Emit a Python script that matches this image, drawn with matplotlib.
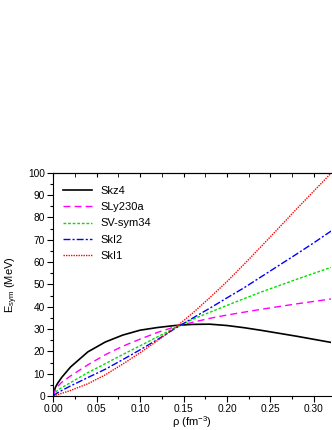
import numpy as np
import matplotlib
matplotlib.use('Agg')
import matplotlib.pyplot as plt
from matplotlib.ticker import MultipleLocator

plt.rcParams['font.family'] = ['Liberation Sans', 'DejaVu Sans']
plt.rcParams['mathtext.fontset'] = 'custom'
plt.rcParams['mathtext.rm'] = 'Liberation Sans'
plt.rcParams['mathtext.it'] = 'Liberation Sans:italic'

# densities (fm^-3)
rho = [0.0, 0.0025, 0.005, 0.01, 0.02, 0.04, 0.06, 0.08, 0.10, 0.12, 0.14, 0.16,
       0.18, 0.20, 0.22, 0.24, 0.26, 0.28, 0.30, 0.32]

# symmetry energy (MeV) for each force
skz4 = [0.0, 3.8, 5.6, 8.4, 13.0, 19.8, 24.2, 27.3, 29.5, 30.7, 31.6, 32.1,
        32.2, 31.6, 30.6, 29.4, 28.1, 26.8, 25.4, 24.0]
sly230a = [0.0, 2.8, 4.2, 6.2, 9.0, 14.0, 18.5, 22.3, 25.5, 28.5, 31.0, 33.0,
           34.8, 36.3, 37.6, 38.9, 40.1, 41.3, 42.4, 43.5]
svsym34 = [0.0, 1.5, 2.5, 3.8, 6.0, 10.5, 14.5, 18.6, 22.5, 26.5, 30.6, 34.3,
           37.5, 40.6, 43.7, 46.7, 49.5, 52.3, 55.0, 57.7]
ski2 = [0.0, 0.8, 1.4, 2.5, 4.5, 8.3, 12.0, 16.3, 20.7, 25.3, 30.2, 34.8,
        39.3, 44.0, 48.6, 53.6, 58.6, 63.6, 68.7, 74.0]
ski1 = [0.0, 0.3, 0.6, 1.2, 2.5, 5.5, 9.5, 14.3, 19.4, 24.8, 30.5, 37.0,
        44.0, 51.3, 59.2, 67.3, 75.5, 83.8, 91.9, 100.0]

fig = plt.figure(figsize=(3.32, 4.30), dpi=100)
ax = fig.add_axes([0.16, 0.079, 0.838, 0.519])

ax.plot(rho, skz4, color='black', lw=1.2, label='Skz4')
ax.plot(rho, sly230a, color='#ff00ff', lw=1.0, dashes=(5, 3), label='SLy230a')
ax.plot(rho, svsym34, color='#00e000', lw=1.0, dashes=(2, 1.3), label='SV-sym34')
ax.plot(rho, ski2, color='#0000ff', lw=1.0, dashes=(5, 1.5, 1.5, 1.5), label='SkI2')
ax.plot(rho, ski1, color='#ff0000', lw=1.0, dashes=(1, 0.8), label='SkI1')

ax.set_xlim(0, 0.32)
ax.set_ylim(0, 100)
ax.xaxis.set_major_locator(MultipleLocator(0.05))
ax.xaxis.set_minor_locator(MultipleLocator(0.025))
ax.yaxis.set_major_locator(MultipleLocator(10))
ax.yaxis.set_minor_locator(MultipleLocator(5))
ax.xaxis.set_major_formatter(matplotlib.ticker.FormatStrFormatter('%.2f'))
ax.tick_params(which='major', direction='out', length=4, width=0.8, labelsize=7.3, pad=2)
ax.tick_params(which='minor', direction='out', length=2, width=0.8)
ax.spines['right'].set_visible(False)

top = ax.secondary_xaxis('top')
top.xaxis.set_major_locator(MultipleLocator(0.05))
top.xaxis.set_minor_locator(MultipleLocator(0.025))
top.tick_params(which='both', direction='in', length=3, labeltop=False)

ax.set_xlabel('ρ (fm$^{-3}$)', fontsize=8, labelpad=0)
ax.set_ylabel('E$_{\\rm sym}$ (MeV)', fontsize=8, labelpad=6)

ax.legend(loc='upper left', fontsize=8, frameon=False, handlelength=2.6,
          labelspacing=0.55, bbox_to_anchor=(0.0, 0.985))

fig.savefig('out.png', dpi=100)
